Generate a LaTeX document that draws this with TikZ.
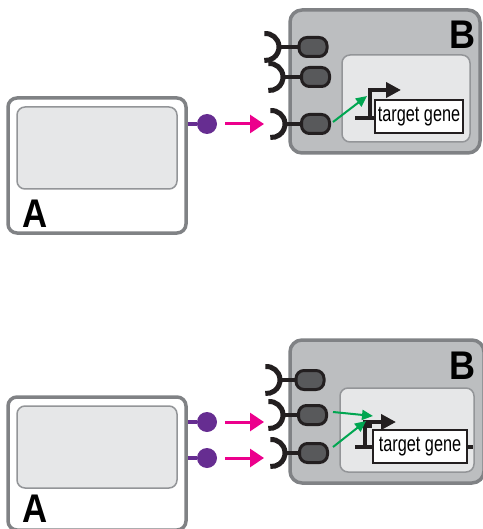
\documentclass[tikz,border=0pt]{standalone}
\usepackage{fontspec}
\setmainfont{Liberation Sans}
\usetikzlibrary{arrows.meta}
\definecolor{mag}{HTML}{EC008C}
\definecolor{purp}{HTML}{662D91}
\definecolor{grn}{HTML}{00A651}
\definecolor{cellstroke}{HTML}{808285}
\definecolor{cellB}{HTML}{BCBEC0}
\definecolor{innerfill}{HTML}{E6E7E8}
\definecolor{innerstroke}{HTML}{939598}
\definecolor{pillfill}{HTML}{58595B}
\definecolor{ink}{HTML}{231F20}
\tikzset{
  cellA/.style={draw=cellstroke, line width=3.5pt, fill=white, rounded corners=9pt, inner sep=0pt},
  cellBbox/.style={draw=cellstroke, line width=3.5pt, fill=cellB, rounded corners=12pt, inner sep=0pt},
  innerbox/.style={draw=innerstroke, line width=1.5pt, fill=innerfill, rounded corners=8pt, inner sep=0pt},
  lig/.style={circle, fill=purp, minimum size=20pt, inner sep=0pt},
  ligstem/.style={draw=purp, line width=4pt},
  magarrow/.style={draw=mag, line width=3pt, -{Triangle[length=14pt,width=18pt]}},
  grnarrow/.style={draw=grn, line width=2pt, -{Triangle[length=11pt,width=10pt]}},
  pill/.style={draw=ink, line width=3pt, fill=pillfill, rounded corners=8pt, minimum width=28pt, minimum height=19pt, inner sep=0pt},
  cup/.style={draw=ink, line width=5pt},
  stem/.style={draw=ink, line width=4pt},
  promo/.style={draw=ink, line width=4pt},
  promoarrow/.style={draw=ink, line width=4pt, -{Triangle[length=15pt,width=15pt]}},
  genebox/.style={draw=ink, line width=1.5pt, fill=white, inner sep=0pt, minimum width=88pt, minimum height=33pt},
  biglabel/.style={font=\fontsize{40}{40}\selectfont\bfseries, inner sep=0pt, anchor=base west},
}
\newcommand{\genetext}{\scalebox{0.74}[1]{\fontsize{22}{22}\selectfont target gene}}
\newcommand{\cupat}[1]{\draw[cup] (#1) ++(-14.68,-13.45) arc[start angle=-95,end angle=95,radius=13.5];}
\begin{document}
\begin{tikzpicture}[x=1pt,y=-1pt]
\useasboundingbox (0,0) rectangle (482,529);

% ================= TOP PANEL =================
% cell A
\node[cellA, minimum width=178pt, minimum height=135pt] (A1) at (97,165.5) {};
\node[innerbox, minimum width=160pt, minimum height=82pt] (A1in) at (97,148) {};
\node[biglabel] (A1lab) at (22,227) {\scalebox{0.87}[1]{A}};
% ligand
\node[lig] (L1) at (207,124) {};
\draw[ligstem] (L1.west) -- (L1.west -| A1.east);
% cell B
\node[cellBbox, minimum width=190pt, minimum height=143pt] (B1) at (385,81.5) {};
\node[innerbox, minimum width=128pt, minimum height=87pt] (B1in) at (406,98.5) {};
\node[biglabel] (B1lab) at (449,49) {\scalebox{0.9}[1]{B}};
% receptors
\node[pill] (P11) at (313,47) {};
\node[pill] (P12) at (315.5,77) {};
\node[pill] (P13) at (315.5,124) {};
\coordinate (C11) at (279,47);
\coordinate (C12) at (283,77);
\coordinate (C13) at (285,124);
\cupat{C11}
\cupat{C12}
\cupat{C13}
\draw[stem] (C11) -- (P11.west);
\draw[stem] (C12) -- (P12.west);
\draw[stem] (C13) -- (P13.west);
% magenta arrow
\coordinate (M1s) at (225,124);
\coordinate (M1e) at (264,124);
\draw[magarrow] (M1s) -- (M1e);
% gene
\node[genebox] (G1) at (419,116.5) {\genetext};
\coordinate (G1l) at (355,118);
\coordinate (T1b) at (370,118);
\coordinate (T1t) at (370,90);
\coordinate (T1e) at (401,90);
\draw[promo] (G1l) -- (G1.west |- G1l);
\draw[promoarrow] (T1b) -- (T1t) -- (T1e);
% green arrow
\coordinate (g1s) at (333,122);
\coordinate (g1e) at (367,96);
\draw[grnarrow] (g1s) -- (g1e);

% ================= BOTTOM PANEL =================
\node[cellA, minimum width=178pt, minimum height=133pt] (A2) at (97,463.5) {};
\node[innerbox, minimum width=160pt, minimum height=82pt] (A2in) at (97,447) {};
\node[biglabel] (A2lab) at (22,522) {\scalebox{0.87}[1]{A}};
% ligands
\node[lig] (L2) at (207,422) {};
\node[lig] (L3) at (207,458) {};
\draw[ligstem] (L2.west) -- (L2.west -| A2.east);
\draw[ligstem] (L3.west) -- (L3.west -| A2.east);
% cell B
\node[cellBbox, minimum width=194pt, minimum height=143pt] (B2) at (387,411.5) {};
\node[innerbox, minimum width=134pt, minimum height=84pt] (B2in) at (407,430) {};
\node[biglabel] (B2lab) at (449,379) {\scalebox{0.9}[1]{B}};
% receptors
\node[pill] (P21) at (310,380) {};
\node[pill] (P22) at (312.5,415) {};
\node[pill] (P23) at (313.5,453) {};
\coordinate (C21) at (280,380);
\coordinate (C22) at (283,415);
\coordinate (C23) at (285,453);
\cupat{C21}
\cupat{C22}
\cupat{C23}
\draw[stem] (C21) -- (P21.west);
\draw[stem] (C22) -- (P22.west);
\draw[stem] (C23) -- (P23.west);
% magenta arrows
\coordinate (M2s) at (225,422);
\coordinate (M2e) at (264,422);
\coordinate (M3s) at (225,458);
\coordinate (M3e) at (264,458);
\draw[magarrow] (M2s) -- (M2e);
\draw[magarrow] (M3s) -- (M3e);
% gene
\coordinate (G2l) at (355,447);
\coordinate (G2r) at (473,447);
\draw[promo] (G2l) -- (G2r);
\node[genebox, minimum width=94pt] (G2) at (420,446.5) {\genetext};
\coordinate (T2b) at (365,447);
\coordinate (T2t) at (365,422);
\coordinate (T2e) at (396,422);
\coordinate (T2cl) at (360,426);
\coordinate (T2cr) at (372,426);
\draw[promo] (T2cl) -- (T2cr);
\draw[promoarrow] (T2b) -- (T2t) -- (T2e);
% green arrows
\coordinate (g2s) at (333,412);
\coordinate (g2e) at (373,416);
\coordinate (g3s) at (333,447);
\coordinate (g3e) at (366,421);
\draw[grnarrow] (g2s) -- (g2e);
\draw[grnarrow] (g3s) -- (g3e);
\end{tikzpicture}
\end{document}
